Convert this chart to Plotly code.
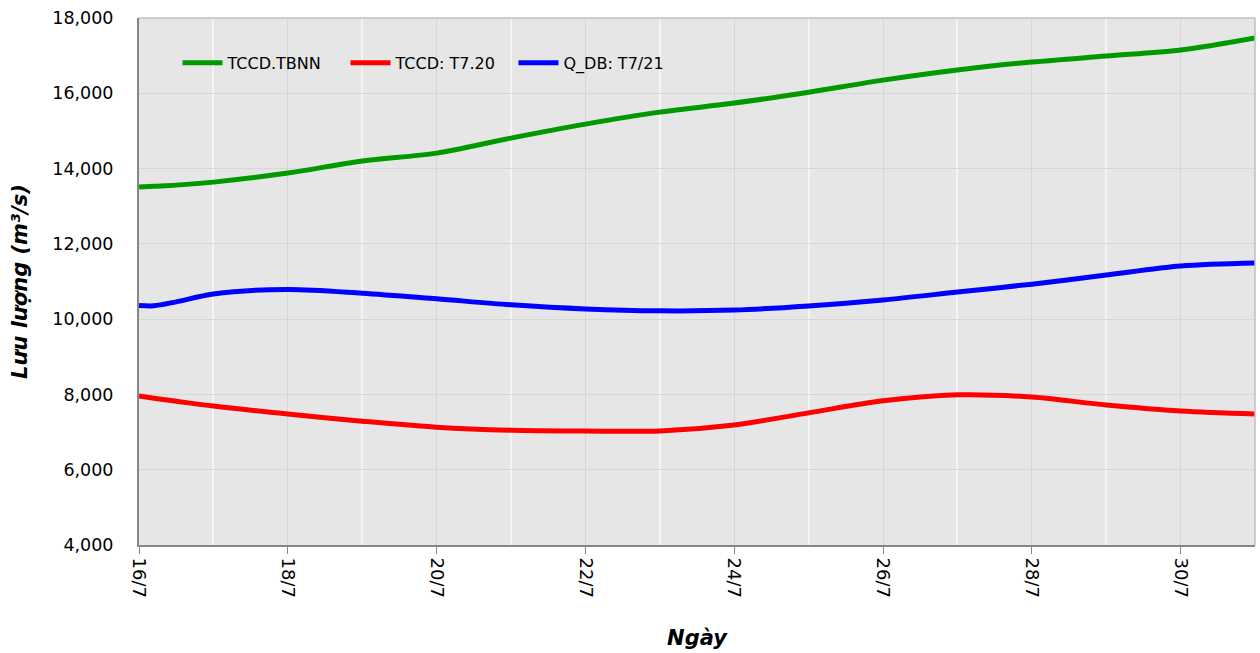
import plotly.graph_objects as go

days = [16, 16.2, 16.5, 17, 18, 19, 20, 21, 22, 23, 24, 25, 26, 27, 28, 29, 30, 31]
tick_vals = [16, 18, 20, 22, 24, 26, 28, 30]
tick_text = ["16/7", "18/7", "20/7", "22/7", "24/7", "26/7", "28/7", "30/7"]

tbnn = [13510, 13530, 13560, 13640, 13880, 14200, 14410, 14810, 15180, 15500, 15740,
        16030, 16350, 16620, 16830, 16990, 17150, 17470]
t720 = [7958, 7900, 7820, 7690, 7480, 7290, 7130, 7050, 7030, 7030, 7190,
        7510, 7830, 7990, 7930, 7720, 7560, 7480]
qdb = [10365, 10355, 10460, 10670, 10790, 10690, 10540, 10380, 10270, 10220, 10240,
       10350, 10510, 10720, 10930, 11170, 11410, 11490]

names = ["TCCD.TBNN", "TCCD: T7.20", "Q_DB: T7/21"]
colors = ["#009900", "#ff0000", "#0000ff"]

fig = go.Figure()
for name, ys, c in zip(names, [tbnn, t720, qdb], colors):
    fig.add_trace(go.Scatter(x=days, y=ys, name=name, mode="lines",
                             line=dict(color=c, width=5, shape="spline", smoothing=0.9)))

font_family = "DejaVu Sans, Verdana, sans-serif"
fig.update_layout(
    width=1260, height=653,
    margin=dict(l=139, r=5, t=18, b=108),
    paper_bgcolor="white",
    plot_bgcolor="#e6e6e6",
    font=dict(family=font_family, size=16, color="#000000"),
    showlegend=True,
    legend=dict(orientation="h", x=0.0345, y=0.915, xanchor="left", yanchor="middle",
                bgcolor="rgba(0,0,0,0)", font=dict(size=16), itemwidth=40,
                entrywidth=113, entrywidthmode="pixels"),
    xaxis=dict(
        range=[16, 31], tickvals=tick_vals, ticktext=tick_text, tickangle=90,
        showgrid=True, gridcolor="#d6d6d6", gridwidth=1,
        minor=dict(tickvals=list(range(17, 31, 2)), showgrid=True, gridcolor="#f4f4f4", gridwidth=2),
        ticks="outside", ticklen=7, tickcolor="#868686",
        showline=True, linecolor="#868686", linewidth=2, mirror=False,
        tickfont=dict(size=18),
        zeroline=False,
        title=dict(text="<b><i>Ngày</i></b>", font=dict(size=21), standoff=33),
    ),
    yaxis=dict(
        range=[4000, 18000], dtick=2000, tickformat=",",
        showgrid=True, gridcolor="#d6d6d6", gridwidth=1,
        ticks="", ticklabelstandoff=20,
        showline=True, linecolor="#868686", linewidth=2,
        tickfont=dict(size=17.5),
        zeroline=False,
        title=dict(text="<b><i>Lưu lượng (m³/s)</i></b>", font=dict(size=21), standoff=19),
    ),
)
# light border on top and right
fig.add_shape(type="line", xref="paper", yref="paper", x0=0, x1=1, y0=1, y1=1,
              line=dict(color="#bfbfbf", width=1.5))
fig.add_shape(type="line", xref="paper", yref="paper", x0=1, x1=1, y0=0, y1=1,
              line=dict(color="#bfbfbf", width=1.5))

fig.write_html("out.html", config={"displayModeBar": False},
               post_script="document.body.style.margin='0';document.body.style.overflow='hidden';")
